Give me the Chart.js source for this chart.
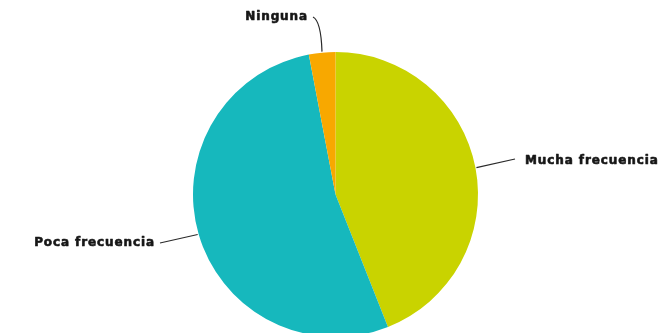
<!DOCTYPE html>
<html>
<head>
<meta charset="utf-8">
<script src="https://cdn.jsdelivr.net/npm/chart.js@4/dist/chart.umd.min.js"></script>
<style>
  html, body { margin: 0; padding: 0; background: #ffffff; overflow: hidden; }
  #wrap { position: relative; width: 665px; height: 337px; }
</style>
</head>
<body>
<div id="wrap"><canvas id="c"></canvas></div>
<script>
const categories = ['Mucha frecuencia', 'Poca frecuencia', 'Ninguna'];
const values = [44, 53, 3];
const colors = ['#c9d300', '#16b8bd', '#f8a800'];

// label anchor positions (text placement) and leader-line elbow points
const labelPlacements = [
  { tx: 525, ty: 161, align: 'left', lx: 515, ly: 159 },
  { tx: 155, ty: 243, align: 'right', lx: 160, ly: 243 },
  { tx: 308, ty: 17, align: 'right', lx: 313, ly: 17, curve: true }
];

const leaderLabels = {
  id: 'leaderLabels',
  afterDatasetsDraw(chart) {
    const ctx = chart.ctx;
    const meta = chart.getDatasetMeta(0);
    ctx.save();
    ctx.font = 'bold 12px "DejaVu Sans"';
    if ('letterSpacing' in ctx) ctx.letterSpacing = '0.9px';
    ctx.textBaseline = 'middle';
    meta.data.forEach((arc, i) => {
      const p = labelPlacements[i];
      const mid = (arc.startAngle + arc.endAngle) / 2;
      const sx = arc.x + Math.cos(mid) * (arc.outerRadius + 1);
      const sy = arc.y + Math.sin(mid) * (arc.outerRadius + 1);
      ctx.strokeStyle = '#2a2a2a';
      ctx.lineWidth = 1.2;
      ctx.beginPath();
      ctx.moveTo(sx, sy);
      if (p.curve) {
        ctx.quadraticCurveTo(sx - 1, p.ly + 4, p.lx, p.ly);
      } else {
        ctx.lineTo(p.lx, p.ly);
      }
      ctx.stroke();
      ctx.textAlign = p.align;
      ctx.fillStyle = '#161616';
      ctx.strokeStyle = '#161616';
      ctx.lineWidth = 0.6;
      ctx.lineJoin = 'round';
      ctx.strokeText(categories[i], p.tx, p.ty);
      ctx.fillText(categories[i], p.tx, p.ty);
    });
    ctx.restore();
  }
};

new Chart(document.getElementById('c'), {
  type: 'pie',
  data: {
    labels: categories,
    datasets: [{
      data: values,
      backgroundColor: colors,
      borderWidth: 0
    }]
  },
  options: {
    responsive: true,
    maintainAspectRatio: false,
    animation: false,
    layout: { padding: { top: 52, left: 6, right: 0, bottom: 0 } },
    plugins: {
      legend: { display: false },
      tooltip: { enabled: false }
    }
  },
  plugins: [leaderLabels]
});
</script>
</body>
</html>
